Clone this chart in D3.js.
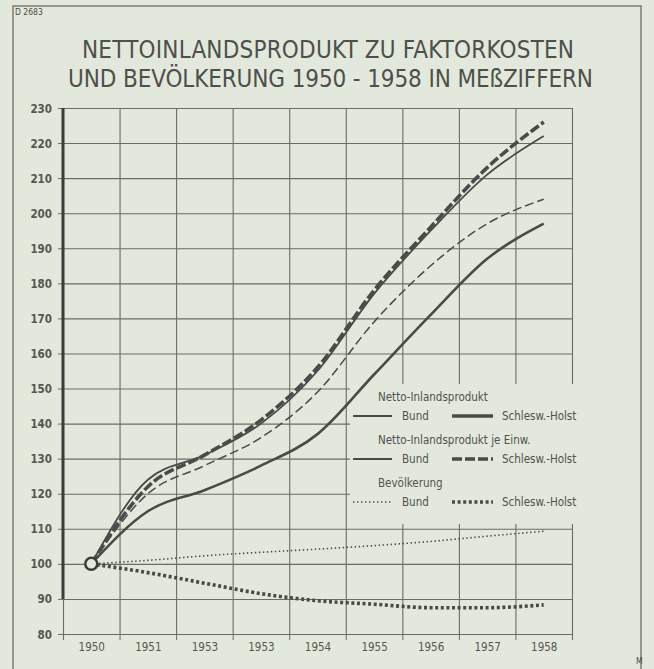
<!DOCTYPE html>
<html>
<head>
<meta charset="utf-8">
<script src="https://cdn.jsdelivr.net/npm/d3@7"></script>
<style>
  html, body { margin: 0; padding: 0; background: #e3e8dc; }
  svg { display: block; }
</style>
</head>
<body>
<svg id="chart"></svg>
<script>
const YEARS = [1950, 1951, 1952, 1953, 1954, 1955, 1956, 1957, 1958];
// the printed axis repeats "1953" for 1952
const YEAR_LABELS = ['1950', '1951', '1953', '1953', '1954', '1955', '1956', '1957', '1958'];
const Y_TICKS = [80, 90, 100, 110, 120, 130, 140, 150, 160, 170, 180, 190, 200, 210, 220, 230];

const NETTO_BUND = [100, 124, 131, 140, 155, 177, 195, 211, 222];
const NETTO_SH = [100, 115, 121, 128, 137, 154, 171, 187, 197];
const EINW_BUND = [100, 120, 128, 136, 149, 169, 185, 197, 204];
const EINW_SH = [100, 122, 131, 141, 156, 178, 196, 213, 226];
const BEV_BUND = [100, 101, 102.3, 103.3, 104.2, 105.2, 106.4, 107.9, 109.3];
const BEV_SH = [100, 97.5, 94.5, 91.5, 89.5, 88.5, 87.5, 87.5, 88.3];

const INK = '#4a4a48';
const GRID = '#6a6c66';
const BG = '#e3e8dc';

const W = 654, H = 669;
const margin = { top: 108, right: 82, bottom: 35, left: 63 };
const iW = W - margin.left - margin.right;
const iH = H - margin.top - margin.bottom;

const svg = d3.select('#chart').attr('width', W).attr('height', H);
svg.append('rect').attr('width', W).attr('height', H).attr('fill', BG);

// outer frame
svg.append('path')
  .attr('d', `M13,${H} V6 H641 V${H}`)
  .attr('fill', 'none').attr('stroke', '#7a7c76').attr('stroke-width', 1.5);

svg.append('text').attr('x', 15).attr('y', 15)
  .attr('font-family', 'DejaVu Sans Condensed').attr('font-size', 8.5)
  .attr('fill', INK).text('D 2683');
svg.append('text').attr('x', 636).attr('y', 664)
  .attr('font-family', 'DejaVu Sans Condensed').attr('font-size', 8.5)
  .attr('fill', INK).text('M');

// title
const titleLines = [
  { t: 'NETTOINLANDSPRODUKT  ZU FAKTORKOSTEN', x0: 82, x1: 574, y: 58 },
  { t: 'UND BEVÖLKERUNG 1950 - 1958 IN MEßZIFFERN', x0: 68, x1: 593, y: 87 }
];
titleLines.forEach((l) => {
  svg.append('text')
    .attr('x', l.x0).attr('y', l.y)
    .attr('textLength', l.x1 - l.x0).attr('lengthAdjust', 'spacing')
    .attr('font-family', 'DejaVu Sans Condensed').attr('font-size', 24)
    .attr('fill', '#4e504b').text(l.t);
});

const g = svg.append('g').attr('transform', `translate(${margin.left},${margin.top})`);

const x = d3.scaleLinear().domain([1949.5, 1958.5]).range([0, iW]);
const y = d3.scaleLinear().domain([80, 230]).range([iH, 0]);

// horizontal grid + left ticks
g.append('g')
  .call(d3.axisLeft(y).tickValues(Y_TICKS).tickSize(-iW).tickFormat(''))
  .call((a) => a.select('.domain').remove())
  .call((a) => a.selectAll('line').attr('stroke', GRID).attr('stroke-width', 1.1));
g.append('g')
  .call(d3.axisLeft(y).tickValues(Y_TICKS).tickSize(5).tickPadding(6)
    .tickFormat((d) => d))
  .call((a) => a.select('.domain').remove())
  .call((a) => a.selectAll('line').attr('stroke', GRID))
  .call((a) => a.selectAll('text').attr('fill', '#55574f')
    .attr('font-family', 'DejaVu Sans Condensed').attr('font-size', 11.5)
    .attr('font-weight', 'bold').attr('dy', '0.35em'));

// vertical grid between years + bottom ticks
const xBounds = d3.range(1949.5, 1959, 1);
g.append('g')
  .attr('transform', `translate(0,${iH})`)
  .call(d3.axisBottom(x).tickValues(xBounds).tickSize(-iH).tickFormat(''))
  .call((a) => a.select('.domain').remove())
  .call((a) => a.selectAll('line').attr('stroke', GRID).attr('stroke-width', 1.1));
g.append('g')
  .attr('transform', `translate(0,${iH})`)
  .call(d3.axisBottom(x).tickValues(xBounds.slice(1, -1)).tickSize(6).tickFormat(''))
  .call((a) => a.select('.domain').attr('stroke', GRID).attr('stroke-width', 1.1))
  .call((a) => a.selectAll('line').attr('stroke', GRID));

// year labels centred on each column
g.append('g')
  .attr('transform', `translate(0,${iH})`)
  .call(d3.axisBottom(x).tickValues(YEARS).tickSize(0).tickPadding(9)
    .tickFormat((d, i) => YEAR_LABELS[i]))
  .call((a) => a.select('.domain').remove())
  .call((a) => a.selectAll('text').attr('fill', '#55574f')
    .attr('font-family', 'DejaVu Sans Condensed').attr('font-size', 11.5)
    .attr('dy', '0.71em'));

// thick left axis down to 90
g.append('line')
  .attr('x1', 0).attr('x2', 0).attr('y1', y(230)).attr('y2', y(90))
  .attr('stroke', '#3c3d3a').attr('stroke-width', 3);

// legend panel masks the grid behind it
g.append('rect')
  .attr('x', 350 - margin.left).attr('y', 384 - margin.top)
  .attr('width', 226).attr('height', 140)
  .attr('fill', BG);

const line = d3.line()
  .x((d, i) => x(YEARS[i]))
  .y((d) => y(d))
  .curve(d3.curveMonotoneX);

const SERIES = [
  { data: BEV_BUND, w: 1.6, dash: '1.4,2.6' },
  { data: BEV_SH, w: 3.6, dash: '3,2.6' },
  { data: EINW_BUND, w: 1.5, dash: '9,4' },
  { data: NETTO_BUND, w: 1.8 },
  { data: NETTO_SH, w: 2.6 },
  { data: EINW_SH, w: 3.6, dash: '10,3' }
];

SERIES.forEach((s) => {
  g.append('path')
    .datum(s.data)
    .attr('d', line)
    .attr('fill', 'none')
    .attr('stroke', INK)
    .attr('stroke-width', s.w)
    .attr('stroke-dasharray', s.dash || null)
    .attr('stroke-linejoin', 'round');
});

g.append('circle')
  .attr('cx', x(1950)).attr('cy', y(100)).attr('r', 6)
  .attr('fill', BG).attr('stroke', '#3c3d3a').attr('stroke-width', 2.5);

// legend
const legendFont = (sel) => sel
  .attr('font-family', 'DejaVu Sans Condensed').attr('font-size', 11.5)
  .attr('fill', '#50524c');

const LEGEND = [
  { title: 'Netto-Inlandsprodukt', y: 401,
    a: { w: 1.8 }, b: { w: 3.4 } },
  { title: 'Netto-Inlandsprodukt  je Einw.', y: 444,
    a: { w: 1.8 }, b: { w: 3.6, dash: '10,3' } },
  { title: 'Bevölkerung', y: 487,
    a: { w: 1.6, dash: '1.4,2.6' }, b: { w: 3.6, dash: '3,2.6' } }
];

LEGEND.forEach((L) => {
  svg.append('text').attr('x', 378).attr('y', L.y).call(legendFont).text(L.title);
  const ry = L.y + 15;
  [[353, 392, L.a], [452, 493, L.b]].forEach(([x0, x1, st]) => {
    svg.append('line')
      .attr('x1', x0).attr('x2', x1).attr('y1', ry).attr('y2', ry)
      .attr('stroke', INK).attr('stroke-width', st.w)
      .attr('stroke-dasharray', st.dash || null);
  });
  svg.append('text').attr('x', 402).attr('y', ry + 4).call(legendFont).text('Bund');
  svg.append('text').attr('x', 502).attr('y', ry + 4).call(legendFont).text('Schlesw.-Holst');
});
</script>
</body>
</html>
